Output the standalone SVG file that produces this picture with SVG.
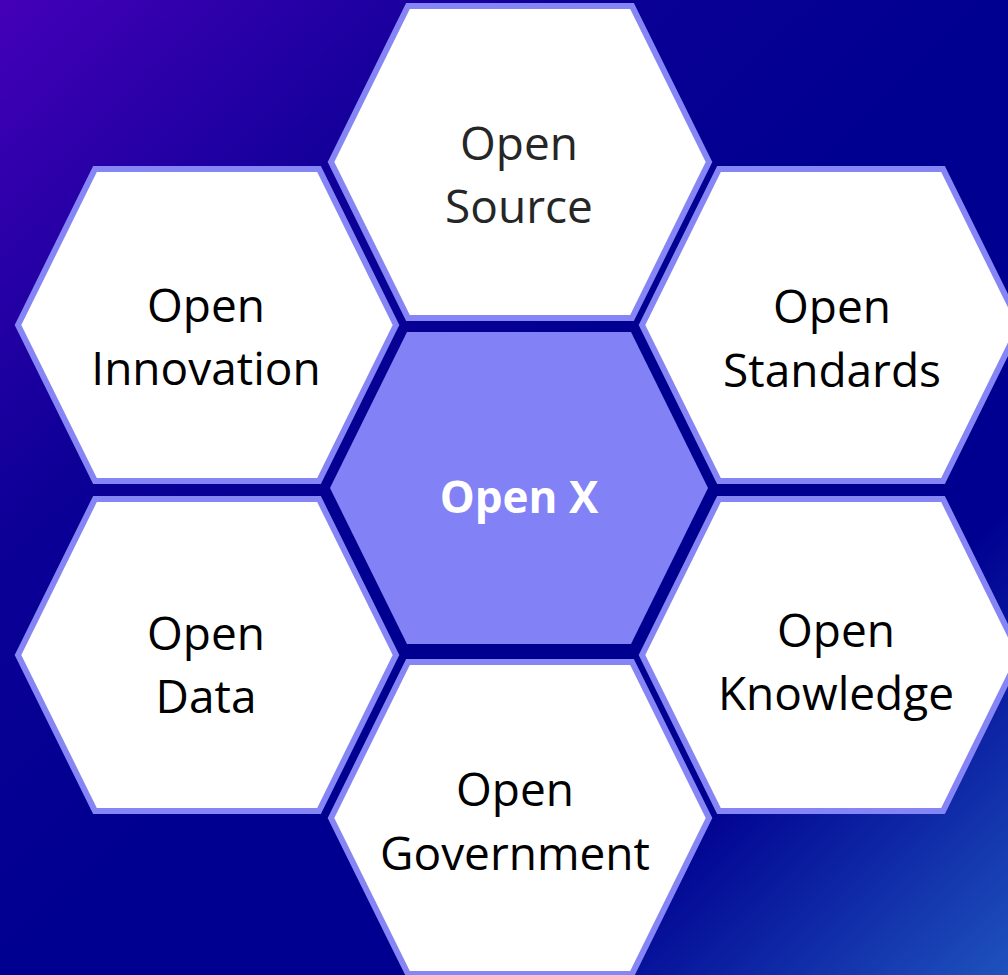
<svg xmlns="http://www.w3.org/2000/svg" width="1008" height="975" viewBox="0 0 1008 975">
  <defs>
    <linearGradient id="bg" x1="0" y1="0" x2="1" y2="1">
      <stop offset="0" stop-color="#4400b8"/>
      <stop offset="0.28" stop-color="#0c0096"/>
      <stop offset="0.5" stop-color="#000090"/>
      <stop offset="0.76" stop-color="#000090"/>
      <stop offset="1" stop-color="#1e52bd"/>
    </linearGradient>
    <path id="hex" d="M-189,0 L-112,-156 L112,-156 L189,0 L112,156 L-112,156 Z"/>
  </defs>
  <style>
    .outer { fill: #ffffff; stroke: #8585f5; stroke-width: 6; stroke-linejoin: miter; }
    .center { fill: #8282f6; }
    .lbl { font-family: "Open Sans", "Noto Sans", "Liberation Sans", sans-serif; font-size: 46px; fill: #000000; text-anchor: middle; }
    .gray { fill: #262626; }
    .bold { font-weight: bold; fill: #ffffff; font-size: 44px; }
  </style>
  <rect x="0" y="0" width="1008" height="975" fill="url(#bg)"/>

  <g id="connectors"></g>

  <g id="open-source">
    <use href="#hex" class="outer" transform="translate(520,162)"/>
    <text class="lbl gray" x="519" y="160">Open</text>
    <text class="lbl gray" x="519" y="223">Source</text>
  </g>
  <g id="open-innovation">
    <use href="#hex" class="outer" transform="translate(207,325)"/>
    <text class="lbl" x="206" y="322">Open</text>
    <text class="lbl" x="206" y="385">Innovation</text>
  </g>
  <g id="open-standards">
    <use href="#hex" class="outer" transform="translate(831,325)"/>
    <text class="lbl" x="832" y="323">Open</text>
    <text class="lbl" x="832" y="387">Standards</text>
  </g>
  <g id="open-x">
    <use href="#hex" class="center" transform="translate(519,488)"/>
    <text class="lbl bold" x="519" y="513">Open X</text>
  </g>
  <g id="open-data">
    <use href="#hex" class="outer" transform="translate(207,655)"/>
    <text class="lbl" x="206" y="650">Open</text>
    <text class="lbl" x="206" y="713">Data</text>
  </g>
  <g id="open-knowledge">
    <use href="#hex" class="outer" transform="translate(831,655)"/>
    <text class="lbl" x="836" y="647">Open</text>
    <text class="lbl" x="836" y="710">Knowledge</text>
  </g>
  <g id="open-government">
    <use href="#hex" class="outer" transform="translate(520,818)"/>
    <text class="lbl" x="515" y="806">Open</text>
    <text class="lbl" x="515" y="870">Government</text>
  </g>
</svg>
